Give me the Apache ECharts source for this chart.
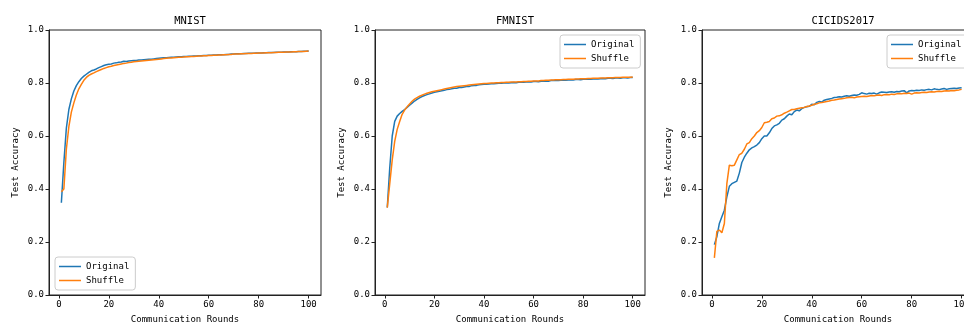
<!DOCTYPE html>
<html>
<head>
<meta charset="utf-8">
<script src="https://cdn.jsdelivr.net/npm/echarts@6/dist/echarts.min.js"></script>
<style>
  html, body { margin: 0; padding: 0; background: #fff; }
  #chart { width: 964px; height: 327px; }
</style>
</head>
<body>
<div id="chart"></div>
<script>
// rounds 1..100
const rounds = [];
for (let i = 1; i <= 100; i++) rounds.push(i);

const xTicks = [0, 20, 40, 60, 80, 100];
const titles = ['MNIST', 'FMNIST', 'CICIDS2017'];
const seriesNames = ['Original', 'Shuffle'];

const mnistOriginal = [
  0.348, 0.50, 0.63, 0.70, 0.74, 0.77, 0.79, 0.805, 0.817, 0.826,
  0.833, 0.840, 0.846, 0.849, 0.853, 0.858, 0.862, 0.866, 0.869, 0.871,
  0.872, 0.875, 0.876, 0.878, 0.879, 0.882, 0.881, 0.883, 0.884, 0.885,
  0.885, 0.887, 0.887, 0.888, 0.889, 0.890, 0.890, 0.891, 0.892, 0.893,
  0.894, 0.895, 0.895, 0.896, 0.897, 0.897, 0.898, 0.899, 0.899, 0.900,
  0.900, 0.901, 0.901, 0.902, 0.902, 0.903, 0.903, 0.904, 0.904, 0.905,
  0.905, 0.906, 0.906, 0.907, 0.907, 0.907, 0.908, 0.908, 0.909, 0.909,
  0.910, 0.910, 0.910, 0.911, 0.911, 0.912, 0.912, 0.912, 0.913, 0.913,
  0.913, 0.914, 0.914, 0.915, 0.915, 0.915, 0.916, 0.916, 0.916, 0.917,
  0.917, 0.917, 0.918, 0.918, 0.918, 0.919, 0.919, 0.920, 0.920, 0.921
];
const mnistShuffle = [
  0.39, 0.40, 0.55, 0.635, 0.69, 0.725, 0.755, 0.778, 0.795, 0.810,
  0.821, 0.829, 0.834, 0.838, 0.843, 0.847, 0.851, 0.855, 0.858, 0.861,
  0.863, 0.866, 0.868, 0.870, 0.872, 0.874, 0.875, 0.877, 0.878, 0.880,
  0.881, 0.882, 0.883, 0.884, 0.885, 0.886, 0.887, 0.888, 0.889, 0.890,
  0.891, 0.892, 0.893, 0.894, 0.894, 0.895, 0.896, 0.897, 0.897, 0.898,
  0.899, 0.899, 0.900, 0.900, 0.901, 0.902, 0.902, 0.903, 0.903, 0.904,
  0.904, 0.905, 0.905, 0.906, 0.906, 0.907, 0.907, 0.908, 0.908, 0.909,
  0.909, 0.909, 0.910, 0.910, 0.911, 0.911, 0.911, 0.912, 0.912, 0.913,
  0.913, 0.913, 0.914, 0.914, 0.914, 0.915, 0.915, 0.916, 0.916, 0.916,
  0.917, 0.917, 0.917, 0.918, 0.918, 0.919, 0.919, 0.919, 0.920, 0.921
];
const fmnistOriginal = [
  0.33, 0.48, 0.60, 0.655, 0.675, 0.685, 0.693, 0.700, 0.708, 0.716,
  0.724, 0.732, 0.738, 0.744, 0.749, 0.753, 0.756, 0.759, 0.762, 0.765,
  0.767, 0.769, 0.771, 0.773, 0.775, 0.776, 0.778, 0.780, 0.780, 0.783,
  0.783, 0.785, 0.787, 0.787, 0.790, 0.791, 0.791, 0.793, 0.794, 0.795,
  0.795, 0.796, 0.797, 0.797, 0.798, 0.799, 0.799, 0.800, 0.801, 0.800,
  0.801, 0.802, 0.801, 0.803, 0.803, 0.803, 0.804, 0.805, 0.804, 0.806,
  0.806, 0.805, 0.807, 0.807, 0.808, 0.807, 0.809, 0.809, 0.810, 0.809,
  0.810, 0.811, 0.810, 0.811, 0.812, 0.811, 0.813, 0.813, 0.812, 0.814,
  0.814, 0.815, 0.814, 0.815, 0.816, 0.815, 0.816, 0.817, 0.816, 0.818,
  0.818, 0.817, 0.819, 0.819, 0.818, 0.820, 0.820, 0.819, 0.821, 0.821
];
const fmnistShuffle = [
  0.33, 0.42, 0.51, 0.58, 0.625, 0.655, 0.682, 0.698, 0.710, 0.721,
  0.731, 0.739, 0.745, 0.750, 0.754, 0.758, 0.761, 0.764, 0.767, 0.769,
  0.771, 0.773, 0.775, 0.777, 0.779, 0.781, 0.783, 0.785, 0.787, 0.788,
  0.789, 0.790, 0.791, 0.792, 0.793, 0.794, 0.795, 0.796, 0.797, 0.798,
  0.798, 0.799, 0.800, 0.800, 0.801, 0.801, 0.802, 0.802, 0.803, 0.803,
  0.804, 0.804, 0.804, 0.805, 0.805, 0.806, 0.806, 0.807, 0.807, 0.808,
  0.808, 0.808, 0.809, 0.809, 0.810, 0.810, 0.811, 0.811, 0.812, 0.812,
  0.812, 0.813, 0.813, 0.814, 0.814, 0.814, 0.815, 0.815, 0.816, 0.816,
  0.816, 0.817, 0.817, 0.818, 0.818, 0.818, 0.819, 0.819, 0.819, 0.820,
  0.820, 0.820, 0.821, 0.821, 0.821, 0.822, 0.822, 0.822, 0.822, 0.823
];
const cicOriginal = [
  0.19, 0.22, 0.27, 0.295, 0.32, 0.37, 0.41, 0.42, 0.425, 0.43,
  0.46, 0.50, 0.52, 0.535, 0.548, 0.555, 0.56, 0.566, 0.575, 0.59,
  0.60, 0.60, 0.612, 0.628, 0.638, 0.642, 0.648, 0.66, 0.665, 0.675,
  0.683, 0.68, 0.692, 0.698, 0.695, 0.703, 0.708, 0.71, 0.712, 0.72,
  0.718, 0.727, 0.73, 0.728, 0.735, 0.738, 0.74, 0.742, 0.745, 0.746,
  0.748, 0.747, 0.75, 0.752, 0.75, 0.753, 0.755, 0.754, 0.757, 0.763,
  0.76, 0.758, 0.761, 0.76, 0.762, 0.758, 0.763, 0.766, 0.765, 0.764,
  0.766, 0.767, 0.765, 0.768, 0.767, 0.77, 0.771, 0.763, 0.77, 0.772,
  0.771, 0.773, 0.772, 0.774, 0.773, 0.775, 0.776, 0.774, 0.778, 0.776,
  0.775, 0.777, 0.779, 0.776, 0.778, 0.779, 0.78, 0.779, 0.781, 0.782
];
const cicShuffle = [
  0.14, 0.24, 0.245, 0.235, 0.27, 0.42, 0.49, 0.488, 0.49, 0.51,
  0.53, 0.535, 0.55, 0.57, 0.575, 0.59, 0.60, 0.613, 0.62, 0.632,
  0.65, 0.652, 0.655, 0.665, 0.668, 0.675, 0.676, 0.68, 0.686, 0.69,
  0.695, 0.70, 0.70, 0.703, 0.705, 0.707, 0.708, 0.711, 0.713, 0.716,
  0.72, 0.722, 0.725, 0.726, 0.728, 0.73, 0.732, 0.735, 0.736, 0.738,
  0.74, 0.741, 0.742, 0.744, 0.745, 0.746, 0.744, 0.747, 0.748, 0.749,
  0.75, 0.749, 0.751, 0.753, 0.752, 0.754, 0.755, 0.753, 0.756, 0.757,
  0.756, 0.758, 0.757, 0.759, 0.76, 0.759, 0.761, 0.76, 0.762, 0.758,
  0.762, 0.763, 0.762, 0.764, 0.765, 0.764, 0.766, 0.767, 0.766, 0.768,
  0.769, 0.768, 0.77, 0.771, 0.77, 0.772, 0.771, 0.773, 0.774, 0.776
];

const panels = [
  [mnistOriginal, mnistShuffle],
  [fmnistOriginal, fmnistShuffle],
  [cicOriginal, cicShuffle]
];
const colors = ['#1f77b4', '#ff7f0e'];
const font = 'DejaVu Sans Mono';

// plot area positions (px) - third one runs off the right edge like the original
const gridLeft = [49, 375, 702];
const gridWidth = [272, 270, 272];

const pairs = arr => rounds.map((r, i) => [r, arr[i]]);

const option = {
  animation: false,
  backgroundColor: '#fff',
  title: titles.map((t, i) => ({
    text: t,
    left: gridLeft[i] + gridWidth[i] / 2,
    top: 11,
    textAlign: 'center',
    textStyle: { fontFamily: font, fontSize: 10.5, fontWeight: 'normal', color: '#000' }
  })),
  grid: gridLeft.map((l, i) => ({
    left: l, top: 30, width: gridWidth[i], height: 265,
    outerBoundsMode: 'none',
    containLabel: false,
    show: true, borderColor: '#222', borderWidth: 1, backgroundColor: 'transparent'
  })),
  legend: [
    { left: 55, top: 257, padding: [4, 6, 4, 4] },
    { left: 560, top: 35, padding: [4, 6, 4, 4] },
    { left: 887, top: 35, padding: [4, 30, 4, 4] }
  ].map(p => Object.assign({
    data: seriesNames,
    orient: 'vertical',
    icon: 'rect',
    itemWidth: 22,
    itemHeight: 1.5,
    itemGap: 3,
    borderColor: '#ccc',
    borderWidth: 1,
    borderRadius: 3,
    backgroundColor: '#fff',
    selectedMode: false,
    textStyle: { fontFamily: font, fontSize: 9, color: '#000', lineHeight: 11 }
  }, p)),
  xAxis: gridLeft.map((l, i) => ({
    type: 'value',
    gridIndex: i,
    min: -3.95,
    max: 104.95,
    name: 'Communication Rounds',
    nameLocation: 'middle',
    nameGap: 20,
    nameTextStyle: { fontFamily: font, fontSize: 9, color: '#000' },
    axisLine: { show: true, onZero: false, lineStyle: { color: '#222' } },
    axisTick: { show: true, length: 3.5, customValues: xTicks, lineStyle: { color: '#222' } },
    axisLabel: { customValues: xTicks, fontFamily: font, fontSize: 9, color: '#000', margin: 5 },
    splitLine: { show: false }
  })),
  yAxis: gridLeft.map((l, i) => ({
    type: 'value',
    gridIndex: i,
    min: 0,
    max: 1,
    interval: 0.2,
    name: 'Test Accuracy',
    nameLocation: 'middle',
    nameGap: 29,
    nameTextStyle: { fontFamily: font, fontSize: 9, color: '#000' },
    axisLine: { show: true, onZero: false, lineStyle: { color: '#222' } },
    axisTick: { show: true, length: 3.5, lineStyle: { color: '#222' } },
    axisLabel: { fontFamily: font, fontSize: 9, color: '#000', margin: 5, formatter: v => v.toFixed(1) },
    splitLine: { show: false }
  })),
  series: []
};

panels.forEach((pair, i) => {
  pair.forEach((arr, j) => {
    option.series.push({
      name: seriesNames[j],
      type: 'line',
      xAxisIndex: i,
      yAxisIndex: i,
      data: pairs(arr),
      showSymbol: false,
      color: colors[j],
      lineStyle: { width: 1.5, color: colors[j] },
      z: j === 0 ? 2 : 3
    });
  });
});

const chart = echarts.init(document.getElementById('chart'), null, { renderer: 'canvas' });
chart.setOption(option);
</script>
</body>
</html>
